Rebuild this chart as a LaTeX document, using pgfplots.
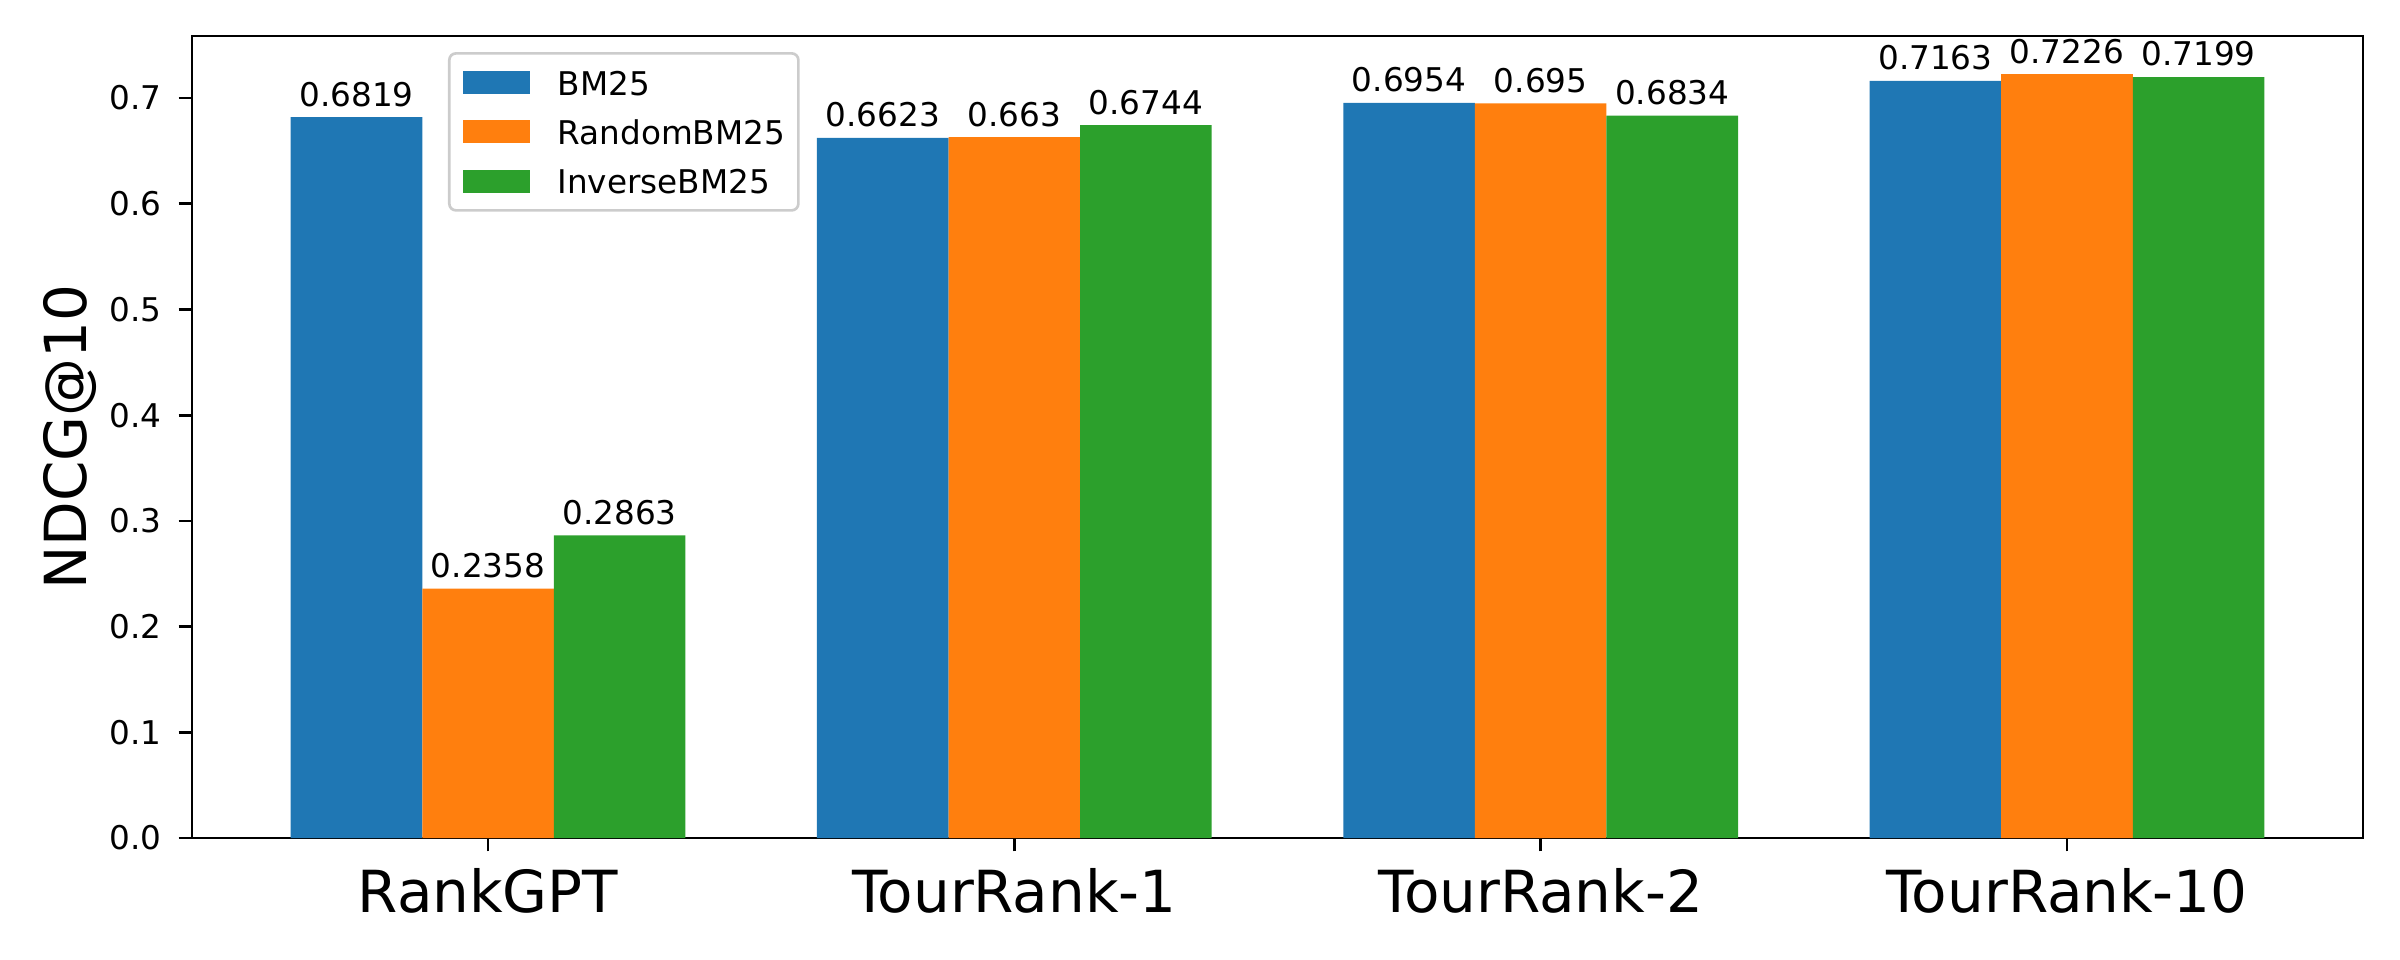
\documentclass[border=0pt]{standalone}
\usepackage{pgfplots}
\pgfplotsset{compat=1.18}
\usepackage{fontspec}
\setmainfont{DejaVu Sans}
\definecolor{tabblue}{HTML}{1F77B4}
\definecolor{taborange}{HTML}{FF7F0E}
\definecolor{tabgreen}{HTML}{2CA02C}
\newcommand{\smallf}{\fontsize{9.8bp}{11bp}\selectfont}
\newcommand{\bigf}{\fontsize{17.4bp}{20bp}\selectfont}
\begin{document}
\begin{tikzpicture}
\useasboundingbox (0,0) rectangle (720bp,288bp);
\begin{axis}[
  at={(57.6bp,36.6bp)}, anchor=south west,
  scale only axis, width=651.3bp, height=240.6bp,
  xmin=-0.5625, xmax=3.5625, ymin=0, ymax=0.75873,
  clip=false,
  axis line style={line width=0.8bp},
  tick style={line width=0.8bp, black},
  tick align=outside, major tick length=4bp,
  xtick pos=lower, ytick pos=left,
  xtick={0,1,2,3},
  xticklabels={RankGPT,TourRank-1,TourRank-2,TourRank-10},
  ytick={0,0.1,0.2,0.3,0.4,0.5,0.6,0.7},
  /pgf/number format/fixed, /pgf/number format/fixed zerofill,
  /pgf/number format/precision=1, /pgf/number format/assume math mode=true,
  yticklabel style={font=\smallf, inner sep=0pt, xshift=-5bp},
  xticklabel style={font=\bigf, inner sep=0pt, yshift=-5bp},
  every axis y label/.style={at={(axis description cs:-0.0484,0.5)}, anchor=base, rotate=90, font=\bigf},
  ylabel={NDCG@10},
  bar width=0.25,
  point meta=explicit symbolic,
  nodes near coords,
  every node near coord/.append style={font=\smallf, inner sep=0pt, yshift=3bp, anchor=south},
  legend image code/.code={\fill[#1, sharp corners] (0bp,-3.45bp) rectangle (20.1bp,3.45bp);},
  legend cell align=left,
  legend style={at={(axis description cs:0.1179,0.98)}, anchor=north west,
    draw=black!20, line width=0.8bp, rounded corners=2bp, fill=white,
    font=\smallf, inner xsep=4bp, inner ysep=5bp, row sep=7.3bp,
    nodes={inner sep=0pt, text height=7.5bp, text depth=0pt},
    /tikz/every odd column/.append style={column sep=8.4bp}},
]
\addplot[ybar, bar shift=-0.25, fill=tabblue, draw=none,
  every node near coord/.append style={xshift=-39.47bp}] coordinates {
  (0,0.6819) [0.6819] (1,0.6623) [0.6623] (2,0.6954) [0.6954] (3,0.7163) [0.7163]};
\addlegendentry{BM25}
\addplot[ybar, bar shift=0, fill=taborange, draw=none] coordinates {
  (0,0.2358) [0.2358] (1,0.663) [0.663] (2,0.695) [0.695] (3,0.7226) [0.7226]};
\addlegendentry{RandomBM25}
\addplot[ybar, bar shift=0.25, fill=tabgreen, draw=none,
  every node near coord/.append style={xshift=39.47bp}] coordinates {
  (0,0.2863) [0.2863] (1,0.6744) [0.6744] (2,0.6834) [0.6834] (3,0.7199) [0.7199]};
\addlegendentry{InverseBM25}
\end{axis}
\end{tikzpicture}
\end{document}
